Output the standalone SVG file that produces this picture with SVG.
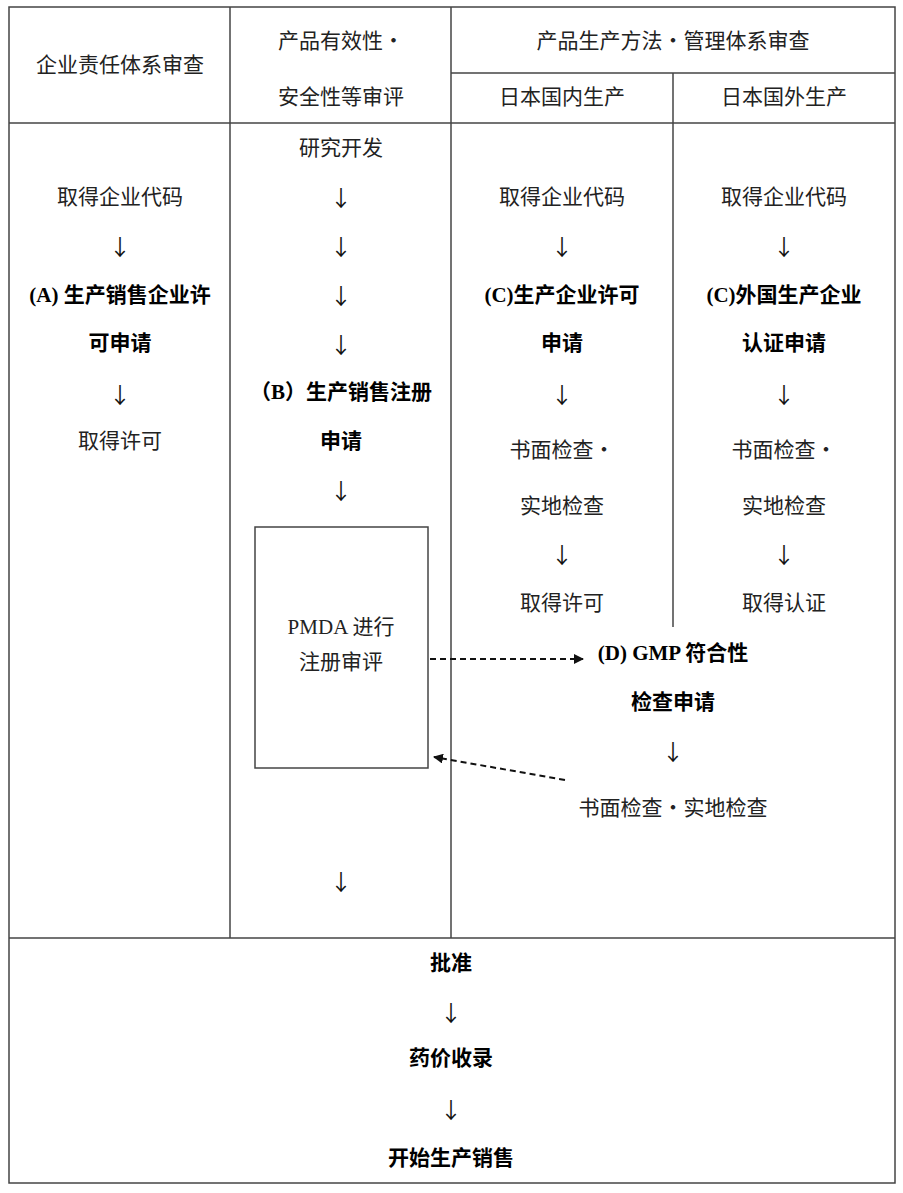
<svg xmlns="http://www.w3.org/2000/svg" width="903" height="1193" viewBox="0 0 903 1193">
<style>
.t{font-family:"Liberation Serif","Noto Sans CJK SC",serif;font-size:21px;fill:#222;text-anchor:middle}
.b{font-weight:bold;fill:#000}
.ar{font-family:"Noto Sans CJK SC","DejaVu Sans",sans-serif;font-size:22px;fill:#111;text-anchor:middle}
.ln{stroke:#444;stroke-width:1.5;fill:none}
.dash{stroke:#111;stroke-width:2;stroke-dasharray:6,4;fill:none}
</style>
<defs>
<marker id="ah" viewBox="0 0 10 10" refX="9" refY="5" markerWidth="5" markerHeight="5" orient="auto">
<path d="M0,0 L10,5 L0,10 z" fill="#111"/>
</marker>
</defs>
<rect width="903" height="1193" fill="#fff"/>
<g id="table">
<rect class="ln" x="9" y="7" width="886" height="1176"/>
<line class="ln" x1="9" y1="123" x2="895" y2="123"/>
<line class="ln" x1="451" y1="73" x2="895" y2="73"/>
<line class="ln" x1="230" y1="7" x2="230" y2="938"/>
<line class="ln" x1="451" y1="7" x2="451" y2="938"/>
<line class="ln" x1="673" y1="73" x2="673" y2="627"/>
<line class="ln" x1="9" y1="938" x2="895" y2="938"/>
</g>
<g id="headers">
<text class="t" x="120" y="72">企业责任体系审查</text>
<text class="t" x="341" y="48">产品有效性・</text>
<text class="t" x="341" y="104">安全性等审评</text>
<text class="t" x="673" y="48">产品生产方法・管理体系审查</text>
<text class="t" x="562" y="104">日本国内生产</text>
<text class="t" x="784" y="104">日本国外生产</text>
</g>
<g id="col1">
<text class="t" x="120" y="204">取得企业代码</text>
<text class="t b" x="120" y="302">(A)  生产销售企业许</text>
<text class="t b" x="120" y="350">可申请</text>
<text class="t" x="120" y="448">取得许可</text>
</g>
<g id="col2">
<text class="t" x="341" y="155">研究开发</text>
<text class="t b" x="341" y="399">（B）生产销售注册</text>
<text class="t b" x="341" y="448">申请</text>
</g>
<g id="pmda">
<rect class="ln" x="255" y="527" width="173" height="241" stroke-width="1.2"/>
<text class="t" x="341" y="634">PMDA 进行</text>
<text class="t" x="341" y="669">注册审评</text>
</g>
<g id="col3">
<text class="t" x="562" y="204">取得企业代码</text>
<text class="t b" x="562" y="302">(C)生产企业许可</text>
<text class="t b" x="562" y="350">申请</text>
<text class="t" x="562" y="457">书面检查・</text>
<text class="t" x="562" y="513">实地检查</text>
<text class="t" x="562" y="610">取得许可</text>
</g>
<g id="col4">
<text class="t" x="784" y="204">取得企业代码</text>
<text class="t b" x="784" y="302">(C)外国生产企业</text>
<text class="t b" x="784" y="350">认证申请</text>
<text class="t" x="784" y="457">书面检查・</text>
<text class="t" x="784" y="513">实地检查</text>
<text class="t" x="784" y="610">取得认证</text>
</g>
<g id="gmp">
<text class="t b" x="673" y="660">(D) GMP 符合性</text>
<text class="t b" x="673" y="709">检查申请</text>
<text class="t" x="673" y="815">书面检查・实地检查</text>
</g>
<g id="final">
<text class="t b" x="451" y="970">批准</text>
<text class="t b" x="451" y="1065">药价收录</text>
<text class="t b" x="451" y="1165">开始生产销售</text>
</g>
<g id="connectors">
<g opacity="0.99">
<text class="ar" x="120" y="255">↓</text>
<text class="ar" x="120" y="403">↓</text>
<text class="ar" x="341" y="206">↓</text>
<text class="ar" x="341" y="255">↓</text>
<text class="ar" x="341" y="304">↓</text>
<text class="ar" x="341" y="353">↓</text>
<text class="ar" x="341" y="499">↓</text>
<text class="ar" x="341" y="890">↓</text>
<text class="ar" x="562" y="255">↓</text>
<text class="ar" x="562" y="403">↓</text>
<text class="ar" x="562" y="563">↓</text>
<text class="ar" x="784" y="255">↓</text>
<text class="ar" x="784" y="403">↓</text>
<text class="ar" x="784" y="563">↓</text>
<text class="ar" x="673" y="760">↓</text>
<text class="ar" x="451" y="1021">↓</text>
<text class="ar" x="451" y="1118">↓</text>
</g>
<line class="dash" x1="430" y1="659" x2="583" y2="659" marker-end="url(#ah)"/>
<line class="dash" x1="565" y1="780" x2="434" y2="757" marker-end="url(#ah)"/>
</g>
</svg>
